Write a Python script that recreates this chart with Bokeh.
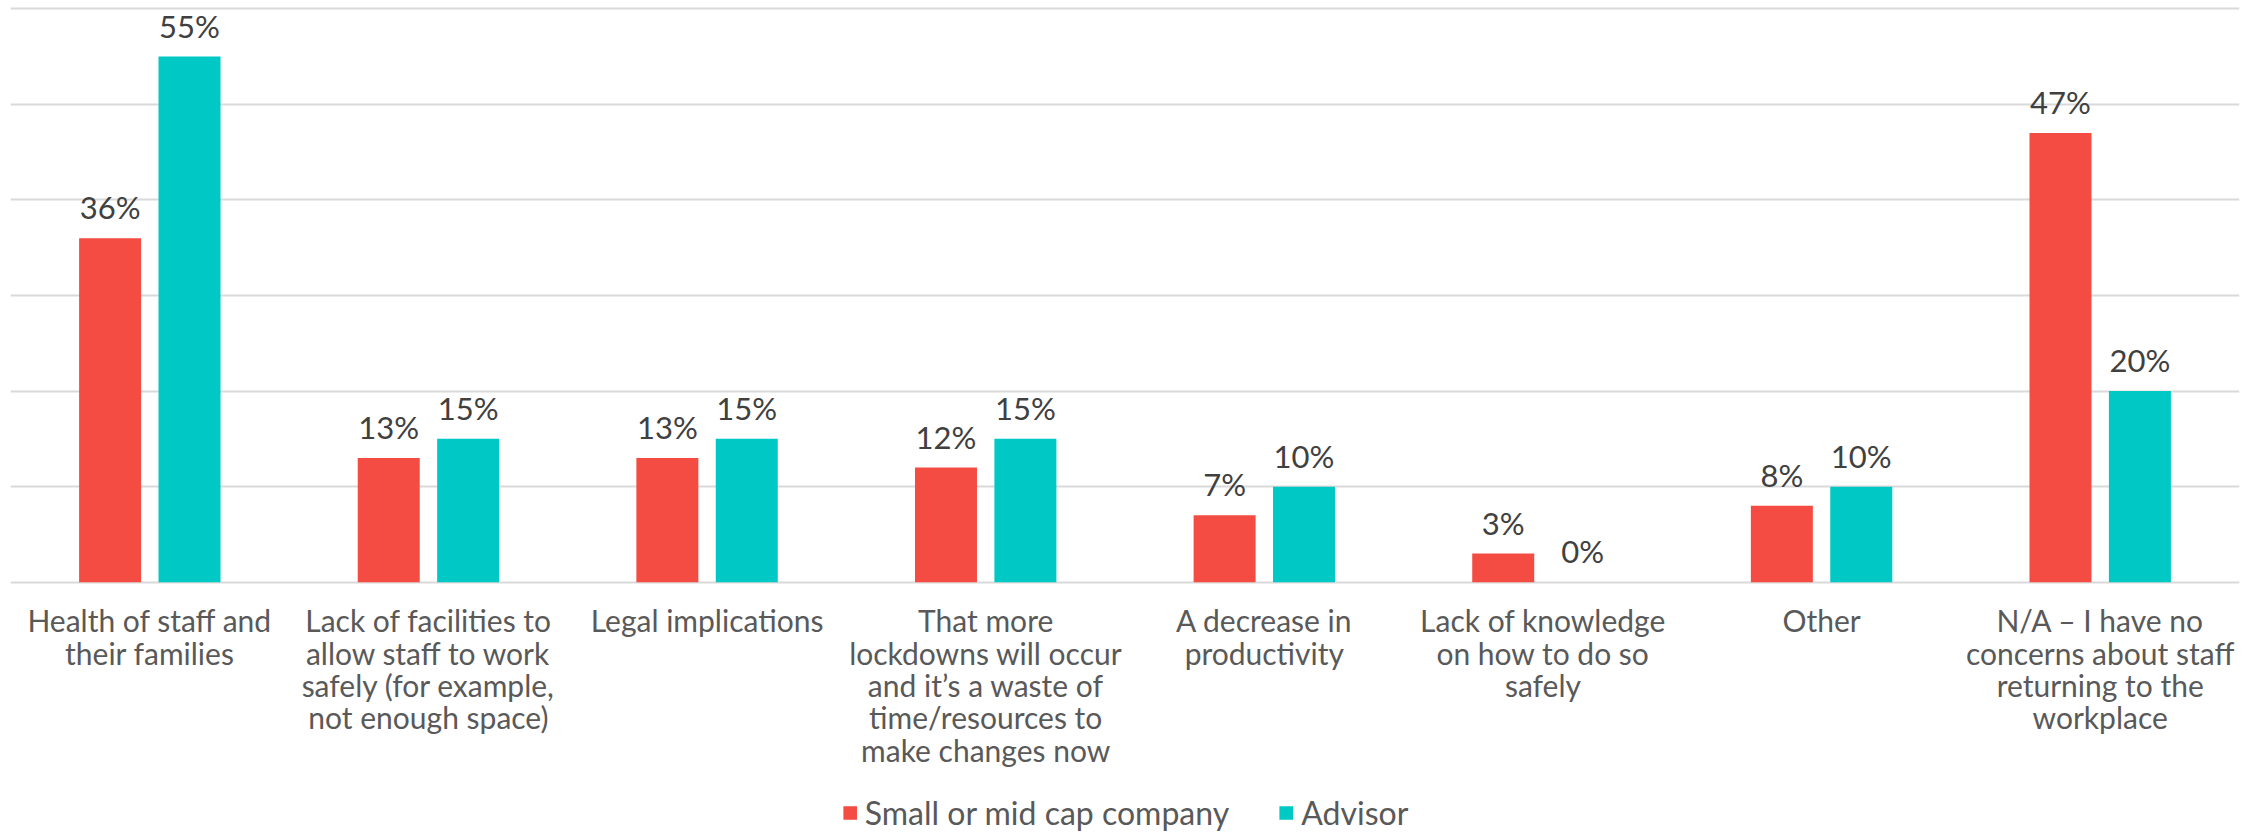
from bokeh.plotting import figure
from bokeh.models import FactorRange, Range1d, Legend, LegendItem, FixedTicker, ColumnDataSource
from bokeh.transform import dodge
from bokeh.core.properties import value
from bokeh.embed import file_html
from bokeh.resources import INLINE

# ---- data ----
categories = [
    "Health of staff and\ntheir families",
    "Lack of facilities to\nallow staff to work\nsafely (for example,\nnot enough space)",
    "Legal implications",
    "That more\nlockdowns will occur\nand it\u2019s a waste of\ntime/resources to\nmake changes now",
    "A decrease in\nproductivity",
    "Lack of knowledge\non how to do so\nsafely",
    "Other",
    "N/A \u2013 I have no\nconcerns about staff\nreturning to the\nworkplace",
]
small_mid_cap = [36, 13, 13, 12, 7, 3, 8, 47]
advisor = [55, 15, 15, 15, 10, 0, 10, 20]
series_names = ["Small or mid cap company", "Advisor"]
y_ticks = [0, 10, 20, 30, 40, 50, 60]

# ---- style ----
RED = "#F44B42"
TEAL = "#00C8C5"
FONT = "Lato"

src = ColumnDataSource(dict(
    cat=categories,
    small=small_mid_cap,
    adv=advisor,
    small_lbl=[f"{v}%" for v in small_mid_cap],
    adv_lbl=[f"{v}%" for v in advisor],
))

p = figure(
    x_range=FactorRange(*categories, range_padding=0),
    y_range=Range1d(-26.19, 60.87),
    width=2261, height=832,
    output_backend="svg", toolbar_location=None,
    min_border_left=10, min_border_right=22, min_border_top=0, min_border_bottom=0,
)
p.outline_line_color = None
p.xaxis.visible = False
p.yaxis.visible = False
p.xgrid.visible = False
p.ygrid.ticker = FixedTicker(ticks=y_ticks)
p.ygrid.grid_line_color = "#D9D9D9"
p.ygrid.grid_line_width = 2

off = 0.1425
bw = 0.2225
r1 = p.vbar(x=dodge("cat", -off, range=p.x_range), top="small", bottom=0, width=bw,
            source=src, fill_color=RED, line_color=None)
r2 = p.vbar(x=dodge("cat", off, range=p.x_range), top="adv", bottom=0, width=bw,
            source=src, fill_color=TEAL, line_color=None)

for xo, col, lbl in [(-off, "small", "small_lbl"), (off, "adv", "adv_lbl")]:
    p.text(x=dodge("cat", xo, range=p.x_range), y=col, text=lbl, source=src,
           text_align="center", text_baseline="bottom", y_offset=-12,
           text_font=value(FONT), text_font_size="31px", text_color="#404040")

p.text(x="cat", y=0, text="cat", source=src, text_align="center", text_baseline="top",
       y_offset=20, text_line_height=0.9,
       text_font=value(FONT), text_font_size="30px", text_color="#595959")

legend = Legend(items=[LegendItem(label=series_names[0], renderers=[r1]),
                       LegendItem(label=series_names[1], renderers=[r2])],
                location="bottom_center", orientation="horizontal",
                label_text_font=FONT, label_text_font_size="32px", label_text_color="#595959",
                glyph_width=17, glyph_height=17, label_standoff=7, spacing=48,
                padding=0, margin=0, border_line_color=None, background_fill_alpha=0)
p.add_layout(legend)

open("out.html", "w").write(file_html(p, INLINE))
